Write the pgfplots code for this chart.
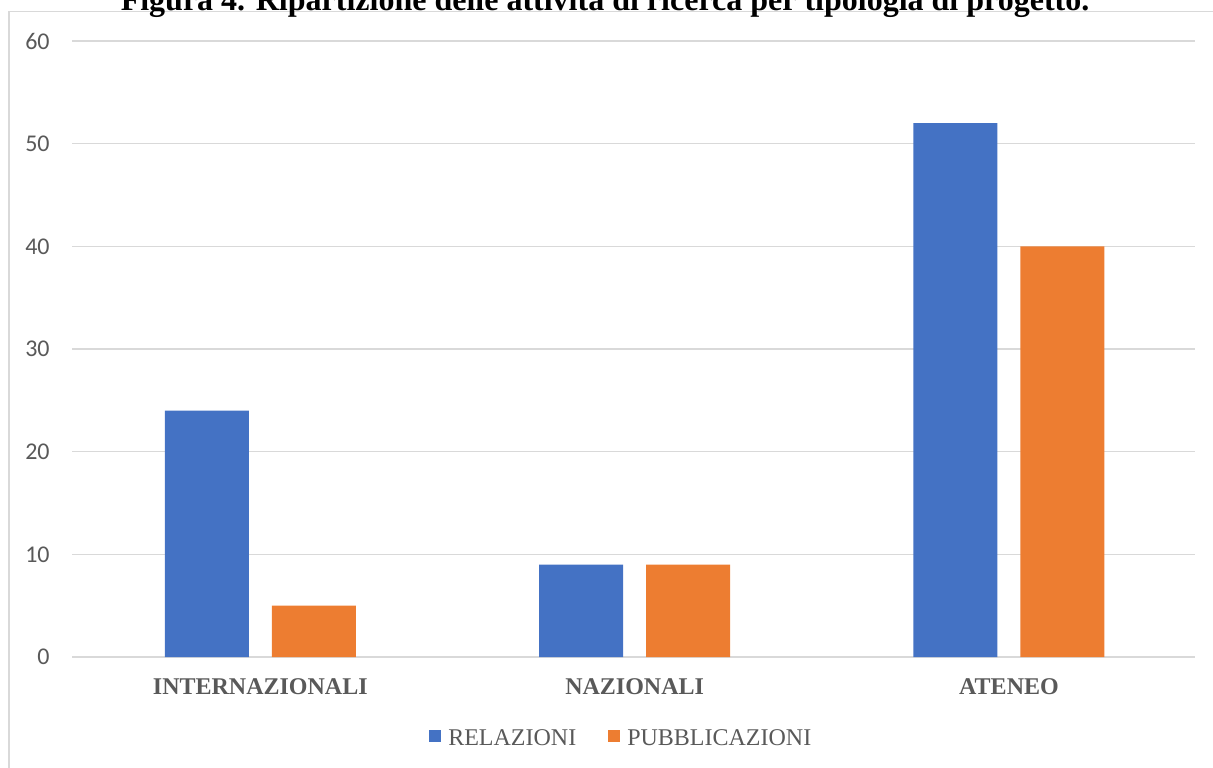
\documentclass[border=0pt]{standalone}
\usepackage{fontspec}
\setmainfont{Liberation Serif}
\newfontfamily\calibri{Carlito}
\usepackage{pgfplots}
\pgfplotsset{compat=1.18}
\definecolor{cblue}{HTML}{4472C4}
\definecolor{corange}{HTML}{ED7D31}
\definecolor{tgray}{HTML}{595959}
\definecolor{ggray}{HTML}{D9D9D9}
\begin{document}
\begin{tikzpicture}
\path[use as bounding box] (0pt,0pt) rectangle (606.5pt,-383.5pt);
\clip (0pt,0pt) rectangle (606.5pt,-383.5pt);
% frame
\draw[ggray, line width=0.75pt] (4.5pt,-400pt) -- (4.5pt,-5.8pt) -- (620pt,-5.8pt);
% title (clipped at top as in the reference)
\node[anchor=base, inner sep=0pt, font=\bfseries\fontsize{16}{19}\selectfont] at (302.5pt,-5.2pt)
  {Figura 4. Ripartizione delle attività di ricerca per tipologia di progetto.};
\begin{axis}[
  at={(36pt,-328.5pt)}, anchor=south west,
  scale only axis, width=561.5pt, height=308pt,
  xmin=-0.503, xmax=2.497, ymin=0, ymax=60,
  ybar=11.5pt, bar width=42pt,
  xtick={0,1,2},
  xticklabels={INTERNAZIONALI,NAZIONALI,ATENEO},
  ytick={0,10,...,60},
  major tick length=0pt,
  axis x line*=bottom, axis y line*=left,
  y axis line style={draw=none},
  x axis line style={draw=ggray, line width=1pt},
  ymajorgrids, major grid style={draw=ggray, line width=0.6pt},
  /pgf/number format/assume math mode=true,
  yticklabel style={font=\calibri\fontsize{12}{14}\selectfont, text=tgray, inner sep=0pt, anchor=east, xshift=-11pt},
  xticklabel style={font=\bfseries\fontsize{12}{14}\selectfont, text=tgray, inner sep=0pt, anchor=north, yshift=-10.5pt},
  legend style={at={(0.49,-0.133)}, anchor=center, draw=none, fill=none,
    font=\fontsize{12}{14}\selectfont, text=tgray, legend columns=2,
    /tikz/every odd column/.append style={column sep=1.5pt},
    /tikz/every even column/.append style={column sep=14pt}},
  legend image code/.code={\fill[#1] (0pt,-1.5pt) rectangle (6pt,4.5pt);},
]
\addplot[fill=cblue, draw=none] coordinates {(0,24) (1,9) (2,52)};
\addplot[fill=corange, draw=none] coordinates {(0,5) (1,9) (2,40)};
\legend{RELAZIONI, PUBBLICAZIONI}
\end{axis}
\end{tikzpicture}
\end{document}
